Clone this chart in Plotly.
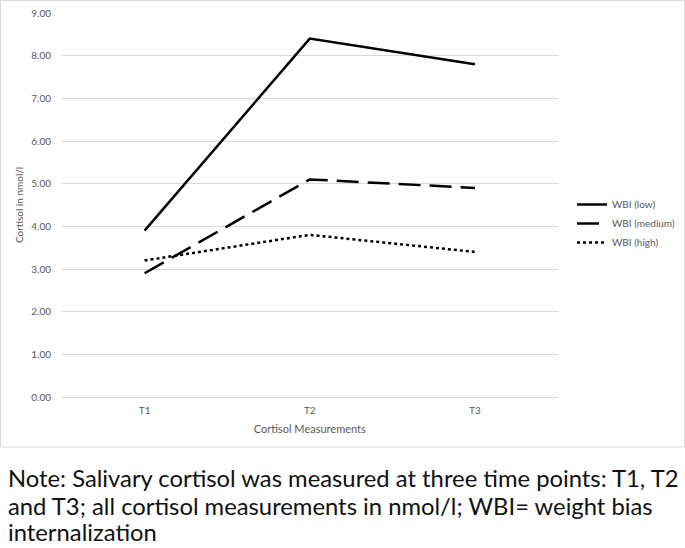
import plotly.graph_objects as go

categories = ["T1", "T2", "T3"]
wbi_low = [3.9, 8.4, 7.8]
wbi_medium = [2.9, 5.1, 4.9]
wbi_high = [3.2, 3.8, 3.4]
series_names = ["WBI (low)", "WBI (medium)", "WBI (high)"]
y_ticks = [0, 1, 2, 3, 4, 5, 6, 7, 8, 9]

W, H = 685, 548
PL, PR, PT, PB = 62, 557.5, 13, 397  # plot area in pixels

def fx(px):
    return px / W

def fy(py):
    return 1 - py / H

FONT = "Lato, Open Sans, sans-serif"

fig = go.Figure()
dashes = ["solid", "22px,9px", "dot"]
for name, vals, d in zip(series_names, [wbi_low, wbi_medium, wbi_high], dashes):
    fig.add_trace(go.Scatter(x=categories, y=vals, mode="lines", name=name,
                             line=dict(color="black", width=2.5, dash=d)))

axis_font = dict(family=FONT, size=10, color="#595959")
fig.update_layout(
    width=W, height=H,
    margin=dict(l=0, r=0, t=0, b=0, autoexpand=False),
    plot_bgcolor="white", paper_bgcolor="white",
    showlegend=True,
    legend=dict(x=fx(572), y=fy(190), xanchor="left", yanchor="top",
                font=axis_font, bgcolor="rgba(0,0,0,0)", tracegroupgap=0,
                itemwidth=30),
    xaxis=dict(type="category", range=[-0.5, 2.5], domain=[fx(PL), fx(PR)],
               automargin=False, showgrid=False, showline=True,
               linecolor="#d9d9d9", linewidth=1, ticks="", tickfont=axis_font,
               ticklabelstandoff=4,
               title=dict(text="Cortisol Measurements", font=dict(family=FONT, size=11, color="#595959"), standoff=10)),
    yaxis=dict(range=[0, 9], domain=[fy(PB), fy(PT)], automargin=False,
               tickvals=y_ticks, tickformat=".2f", showgrid=True,
               gridcolor="#d9d9d9", gridwidth=1, zeroline=False, showline=False,
               ticks="", tickfont=axis_font, ticklabelstandoff=10,
               title=dict(text="Cortisol in nmol/l", font=dict(family=FONT, size=10, color="#595959"), standoff=5)),
)

fig.add_shape(type="rect", xref="paper", yref="paper",
              x0=fx(0.5), x1=fx(684.5), y0=fy(447), y1=fy(0.5),
              line=dict(color="#d9d9d9", width=1), layer="below")

note_lines = [
    "Note: Salivary cortisol was measured at three time points: T1, T2",
    "and T3; all cortisol measurements in nmol/l; WBI= weight bias",
    "internalization",
]
note_y = [478, 505.5, 532]
for line, ypx in zip(note_lines, note_y):
    fig.add_annotation(text=line, xref="paper", yref="paper",
                       x=fx(6), y=fy(ypx), xanchor="left", yanchor="middle",
                       showarrow=False,
                       font=dict(family=FONT, size=23.8, color="#111111"))

fig.write_html("out.html", config={"displayModeBar": False},
               post_script="document.body.style.margin='0';document.documentElement.style.overflow='hidden';")
